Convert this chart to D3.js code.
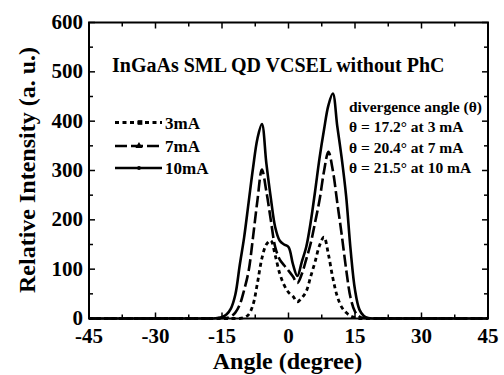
<!DOCTYPE html>
<html lang="en">
<head>
    <meta charset="UTF-8">
    <title>divergence</title>
    <script src="https://cdn.jsdelivr.net/npm/d3@7"></script>
    <style>
        * { padding: 0; margin: 0; }
        body { background: #fff; }
        svg { display: block; }
        svg text { font-family: "Liberation Serif", "Times New Roman", serif; font-weight: bold; fill: #000; }
    </style>
</head>
<body>
    <div class="context"></div>
    <script>
        // angle grid, 1 degree steps from -45 to 45
        const angles = d3.range(-45, 46);

        // intensity values, one per angle
        const i3mA = [
            0, 0, 0, 0, 0, 0, 0, 0, 0, 0, 0, 0, 0, 0, 0, 0, 0, 0, 0, 0,      // -45..-26
            0, 0, 0, 0, 0, 0, 0, 0, 0, 0, 0, 0, 0, 0, 0,                     // -25..-11
            2, 8, 28, 72, 122, 150, 158, 128, 92, 68,                         // -10..-1
            53, 45, 34, 42, 55, 85, 115, 148, 165, 130, 82,                   // 0..10
            45, 23, 12, 5, 2, 0, 0, 0, 0, 0, 0, 0, 0, 0, 0,                   // 11..25
            0, 0, 0, 0, 0, 0, 0, 0, 0, 0, 0, 0, 0, 0, 0, 0, 0, 0, 0, 0        // 26..45
        ];
        const i7mA = [
            0, 0, 0, 0, 0, 0, 0, 0, 0, 0, 0, 0, 0, 0, 0, 0, 0, 0, 0, 0,
            0, 0, 0, 0, 0, 0, 0, 0, 0, 0, 1, 1, 4, 12, 28,
            58, 96, 165, 240, 302, 258, 200, 145, 120, 108,
            97, 85, 72, 90, 120, 152, 195, 240, 298, 338, 300,
            235, 170, 100, 42, 14, 4, 1, 0, 0, 0, 0, 0, 0, 0, 0,
            0, 0, 0, 0, 0, 0, 0, 0, 0, 0, 0, 0, 0, 0, 0, 0, 0, 0, 0, 0
        ];
        const i10mA = [
            0, 0, 0, 0, 0, 0, 0, 0, 0, 0, 0, 0, 0, 0, 0, 0, 0, 0, 0, 0,
            0, 0, 0, 0, 0, 0, 0, 0, 0, 1, 3, 8, 20, 48, 108,
            165, 235, 305, 365, 394, 315, 245, 185, 158, 150,
            145, 110, 86, 115, 145, 195, 258, 325, 382, 432, 456,
            390, 325, 248, 140, 58, 18, 5, 1, 0, 0, 0, 0, 0, 0, 0,
            0, 0, 0, 0, 0, 0, 0, 0, 0, 0, 0, 0, 0, 0, 0, 0, 0, 0, 0, 0
        ];

        const seriesNames = ["3mA", "7mA", "10mA"];
        const xTicks = [-45, -30, -15, 0, 15, 30, 45];
        const yTicks = [0, 100, 200, 300, 400, 500, 600];
        const notes = [
            "divergence angle (\u03b8)",
            "\u03b8 = 17.2\u00b0 at 3 mA",
            "\u03b8 = 20.4\u00b0 at 7 mA",
            "\u03b8 = 21.5\u00b0 at 10 mA"
        ];
        const title = "InGaAs SML QD VCSEL without PhC";

        const W = 504, H = 375;
        const m = { left: 89, right: 16, top: 22.5, bottom: 56.5 };
        const pw = W - m.left - m.right, ph = H - m.top - m.bottom;

        const svg = d3.select(".context").append("svg")
            .attr("width", W).attr("height", H);
        const g = svg.append("g").attr("transform", `translate(${m.left},${m.top})`);

        const x = d3.scaleLinear().domain([-45, 45]).range([0, pw]);
        const y = d3.scaleLinear().domain([0, 600]).range([ph, 0]);

        // styles per series
        const styles = [
            { dash: "4,3.5", width: 2.8, marker: "square" },
            { dash: "12,4", width: 2.6, marker: "triangle" },
            { dash: null, width: 2.6, marker: "circle" }
        ];
        const data = [i3mA, i7mA, i10mA].map(vals => angles.map((a, i) => ({ a, v: vals[i] })));

        const line = d3.line()
            .x(d => x(d.a)).y(d => y(d.v))
            .curve(d3.curveCatmullRom.alpha(0.5));

        data.forEach((d, k) => {
            g.append("path").datum(d)
                .attr("d", line)
                .attr("fill", "none")
                .attr("stroke", "#000")
                .attr("stroke-width", styles[k].width)
                .attr("stroke-dasharray", styles[k].dash)
                .attr("stroke-linejoin", "round");
        });

        // axes: inward ticks on all four sides
        const xMinor = d3.range(-45, 45.1, 7.5);
        const yMinor = d3.range(0, 600.1, 50);
        const tickLen = v => (v % 15 === 0 ? 6 : 4);
        const tickLenY = v => (v % 100 === 0 ? 6 : 4);

        g.selectAll(".xtb").data(xMinor).enter().append("line")
            .attr("x1", d => x(d)).attr("x2", d => x(d))
            .attr("y1", ph).attr("y2", d => ph - tickLen(d))
            .attr("stroke", "#000").attr("stroke-width", 1.5);
        g.selectAll(".xtt").data(xMinor).enter().append("line")
            .attr("x1", d => x(d)).attr("x2", d => x(d))
            .attr("y1", 0).attr("y2", d => tickLen(d))
            .attr("stroke", "#000").attr("stroke-width", 1.5);
        g.selectAll(".ytl").data(yMinor).enter().append("line")
            .attr("y1", d => y(d)).attr("y2", d => y(d))
            .attr("x1", 0).attr("x2", d => tickLenY(d))
            .attr("stroke", "#000").attr("stroke-width", 1.5);
        g.selectAll(".ytr").data(yMinor).enter().append("line")
            .attr("y1", d => y(d)).attr("y2", d => y(d))
            .attr("x1", pw).attr("x2", d => pw - tickLenY(d))
            .attr("stroke", "#000").attr("stroke-width", 1.5);

        g.append("rect")
            .attr("width", pw).attr("height", ph)
            .attr("fill", "none").attr("stroke", "#000").attr("stroke-width", 2);

        g.selectAll(".xl").data(xTicks).enter().append("text")
            .attr("x", d => x(d)).attr("y", ph + 24)
            .attr("text-anchor", "middle")
            .style("font-size", "21px")
            .text(d => d);
        g.selectAll(".yl").data(yTicks).enter().append("text")
            .attr("x", -6).attr("y", d => y(d) + 6.5)
            .attr("text-anchor", "end")
            .style("font-size", "21px")
            .text(d => d);

        svg.append("text")
            .attr("x", m.left + pw / 2 - 1).attr("y", 369)
            .attr("text-anchor", "middle")
            .style("font-size", "24px")
            .text("Angle (degree)");
        svg.append("text")
            .attr("transform", `translate(35,170) rotate(-90)`)
            .attr("text-anchor", "middle")
            .style("font-size", "24px")
            .text("Relative Intensity (a. u.)");

        svg.append("text")
            .attr("x", 112).attr("y", 72)
            .style("font-size", "20px")
            .text(title);

        // legend
        const legY = [122.5, 146, 168];
        seriesNames.forEach((name, k) => {
            svg.append("line")
                .attr("x1", 115).attr("x2", 162)
                .attr("y1", legY[k]).attr("y2", legY[k])
                .attr("stroke", "#000")
                .attr("stroke-width", styles[k].width)
                .attr("stroke-dasharray", styles[k].dash);
            const sym = { square: d3.symbolSquare, triangle: d3.symbolTriangle, circle: d3.symbolCircle }[styles[k].marker];
            svg.append("path")
                .attr("d", d3.symbol().type(sym).size(k === 2 ? 12 : 22))
                .attr("transform", `translate(${k === 0 ? 140 : 139},${legY[k]})`)
                .attr("fill", "#000");
            svg.append("text")
                .attr("x", 165).attr("y", legY[k] + 6)
                .style("font-size", "17px")
                .text(name);
        });

        svg.selectAll(".note").data(notes).enter().append("text")
            .attr("x", 349).attr("y", (d, i) => 111.5 + i * 20.5)
            .style("font-size", "15.5px")
            .text(d => d);
    </script>
</body>
</html>
